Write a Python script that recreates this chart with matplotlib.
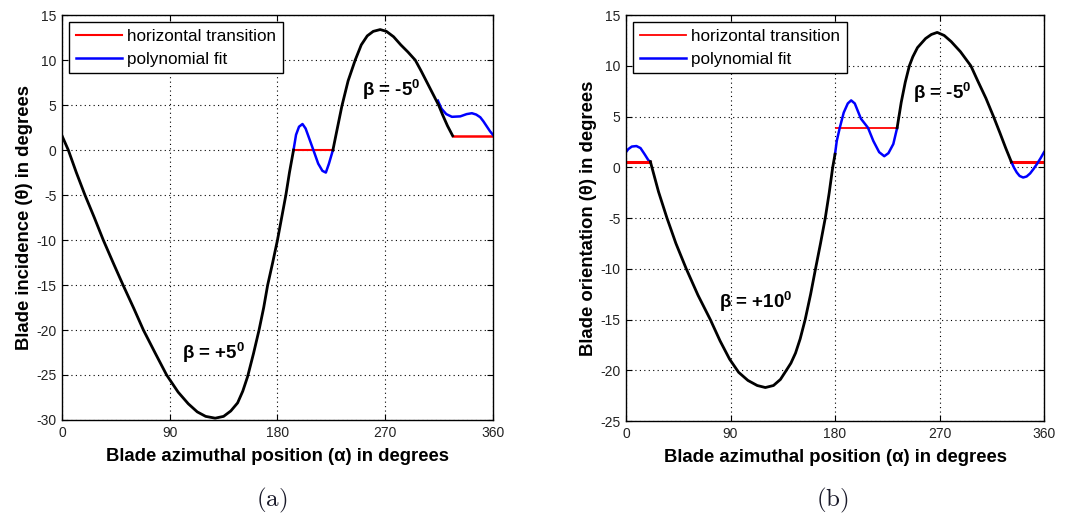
import matplotlib.pyplot as plt

plt.rcParams['font.family'] = ['Liberation Sans', 'DejaVu Sans']
plt.rcParams['mathtext.fontset'] = 'custom'
plt.rcParams['mathtext.rm'] = 'Liberation Sans'
plt.rcParams['mathtext.bf'] = 'Liberation Sans:bold'
plt.rcParams['mathtext.default'] = 'regular'
plt.rcParams['axes.unicode_minus'] = False

# ---- panel (a): blade incidence, beta = +5 / -5
a_black1_x = [0, 5.3, 12, 19.2, 27, 34.5, 43, 51, 60, 68, 78, 87.4, 97, 105.5, 113, 120, 128,
              135, 141, 146.7, 151, 155, 160, 164.6, 168.5, 171.8, 176, 180, 183.5, 187, 190, 193.4]
a_black1_y = [1.6, 0, -2.5, -5, -7.5, -10, -12.6, -15, -17.6, -20, -22.6, -25, -26.9, -28.2, -29.1, -29.6, -29.8,
              -29.6, -29.0, -28.1, -26.8, -25.2, -22.6, -20, -17.5, -15, -12.5, -10, -7.5, -5, -2.5, 0]
a_blue1_x = [193.4, 195.5, 198, 200.9, 203.5, 206.5, 210, 214, 217.5, 220.4, 223, 226.3]
a_blue1_y = [0, 1.7, 2.6, 2.9, 2.4, 1.3, 0, -1.5, -2.3, -2.5, -1.5, 0]
a_red1_x = [193.4, 226.3]
a_red1_y = [0, 0]
a_black2_x = [226.3, 229.5, 233.8, 239, 244.9, 250, 255, 260, 265.8, 271, 277, 283, 289, 295.1,
              300, 305, 310, 314.6, 318, 322, 326.3]
a_black2_y = [0, 2.1, 4.9, 7.7, 10, 11.7, 12.7, 13.2, 13.4, 13.2, 12.6, 11.7, 10.9, 10,
              8.8, 7.5, 6.2, 5, 3.9, 2.7, 1.6]
a_blue2_x = [314, 317, 321, 325.7, 332.7, 338, 342.4, 346, 349.4, 352, 355, 357.5, 360]
a_blue2_y = [5.5, 4.6, 4.0, 3.7, 3.75, 4.0, 4.1, 3.95, 3.65, 3.2, 2.6, 2.1, 1.7]
a_red2_x = [326.3, 360]
a_red2_y = [1.6, 1.6]

# ---- panel (b): blade orientation, beta = +10 / -5
b_blue1_x = [0, 2, 5, 9, 12.5, 16, 19.3, 21]
b_blue1_y = [1.5, 1.8, 2.05, 2.1, 1.9, 1.3, 0.7, 0.56]
b_red1_x = [0, 21]
b_red1_y = [0.56, 0.56]
b_black1_x = [21, 28, 35.3, 43, 51.9, 62, 72.6, 81, 89.2, 97, 105, 113, 120, 127, 133, 138.1,
              142, 146, 150, 154.3, 159, 163.2, 167.5, 171.6, 175, 178, 180]
b_black1_y = [0.56, -2.4, -5, -7.5, -10, -12.6, -15, -17.1, -18.9, -20.2, -21.0, -21.5, -21.7, -21.5, -20.9, -20,
              -19.3, -18.3, -16.9, -15, -12.5, -10, -7.5, -5, -2.5, 0, 1.3]
b_blue2_x = [180, 181.5, 184.2, 187.5, 191, 193.9, 197, 202.3, 208.4, 213, 218, 222.4, 226, 230.2, 233.5]
b_blue2_y = [1.3, 2.6, 3.95, 5.4, 6.3, 6.6, 6.3, 4.8, 3.9, 2.6, 1.5, 1.1, 1.4, 2.3, 3.9]
b_red2_x = [181, 233.5]
b_red2_y = [3.9, 3.9]
b_black2_x = [233.5, 237, 240.5, 244, 247, 251, 258, 263, 268, 274, 280, 288, 297, 303, 310, 316.5, 322, 327, 331.8]
b_black2_y = [3.9, 6.4, 8.4, 10, 10.9, 11.8, 12.7, 13.1, 13.3, 13.0, 12.4, 11.4, 10, 8.5, 6.8, 5, 3.4, 1.9, 0.55]
b_red3_x = [331.8, 360]
b_red3_y = [0.55, 0.55]
b_blue3_x = [331.8, 334, 336.5, 339, 342, 345, 348, 351, 354, 357, 360]
b_blue3_y = [0.55, 0.0, -0.5, -0.85, -1.0, -0.9, -0.6, -0.15, 0.35, 0.9, 1.5]

x_ticks = [0, 90, 180, 270, 360]

fig = plt.figure(figsize=(10.78, 5.23), dpi=100)
ax1 = fig.add_axes([0.0575, 0.197, 0.3998, 0.774])
ax2 = fig.add_axes([0.5807, 0.195, 0.3878, 0.776])


def style(ax, ylim, ylabel):
    ax.set_xlim(0, 360)
    ax.set_ylim(*ylim)
    ax.set_xticks(x_ticks)
    ax.set_yticks(range(ylim[0], ylim[1] + 1, 5))
    ax.tick_params(direction='in', top=True, right=True, length=4,
                   labelsize=10, labelcolor='#222222', pad=4)
    ax.grid(True, color='black', linestyle=(0, (1, 3)), linewidth=0.8)
    for s in ax.spines.values():
        s.set_linewidth(1.0)
    ax.set_xlabel('Blade azimuthal position (α) in degrees', fontsize=13.3, fontweight='bold', labelpad=6)
    ax.set_ylabel(ylabel, fontsize=13.3, fontweight='bold', labelpad=2)


# panel (a)
ax1.plot(a_red1_x, a_red1_y, color='red', lw=1.5, label='horizontal transition')
ax1.plot(a_blue1_x, a_blue1_y, color='blue', lw=1.8, label='polynomial fit')
ax1.plot(a_red2_x, a_red2_y, color='red', lw=1.8)
ax1.plot(a_blue2_x, a_blue2_y, color='blue', lw=1.8)
ax1.plot(a_black1_x, a_black1_y, color='black', lw=2)
ax1.plot(a_black2_x, a_black2_y, color='black', lw=2)
ax1.text(100, -22.6, '$β$ = +5$^0$', fontsize=13.5, fontweight='bold', va='center')
ax1.text(251, 6.7, '$β$ = -5$^0$', fontsize=13.5, fontweight='bold', va='center')
style(ax1, (-30, 15), 'Blade incidence (θ) in degrees')

# panel (b)
ax2.plot(b_red2_x, b_red2_y, color='red', lw=1.3, label='horizontal transition')
ax2.plot(b_blue1_x, b_blue1_y, color='blue', lw=1.8, label='polynomial fit')
ax2.plot(b_red1_x, b_red1_y, color='red', lw=2.2)
ax2.plot(b_red3_x, b_red3_y, color='red', lw=2.2)
ax2.plot(b_blue2_x, b_blue2_y, color='blue', lw=1.8)
ax2.plot(b_blue3_x, b_blue3_y, color='blue', lw=1.8)
ax2.plot(b_black1_x, b_black1_y, color='black', lw=2)
ax2.plot(b_black2_x, b_black2_y, color='black', lw=2)
ax2.text(80, -13.3, '$β$ = +10$^0$', fontsize=13.5, fontweight='bold', va='center')
ax2.text(247, 7.3, '$β$ = -5$^0$', fontsize=13.5, fontweight='bold', va='center')
style(ax2, (-25, 15), 'Blade orientation (θ) in degrees')

for ax in (ax1, ax2):
    leg = ax.legend(loc='upper left', fontsize=12.3, fancybox=False, framealpha=1,
                    edgecolor='black', borderpad=0.4, labelspacing=0.45,
                    handlelength=2.7, handletextpad=0.3, borderaxespad=0.4)
    leg.get_frame().set_linewidth(1.0)

fig.text(0.252, 0.044, r'$\mathrm{(a)}$', math_fontfamily='cm', fontsize=18, ha='center', va='center', color='#1a1a2a')
fig.text(0.772, 0.044, r'$\mathrm{(b)}$', math_fontfamily='cm', fontsize=18, ha='center', va='center', color='#1a1a2a')

fig.savefig('out.png', dpi=100)
